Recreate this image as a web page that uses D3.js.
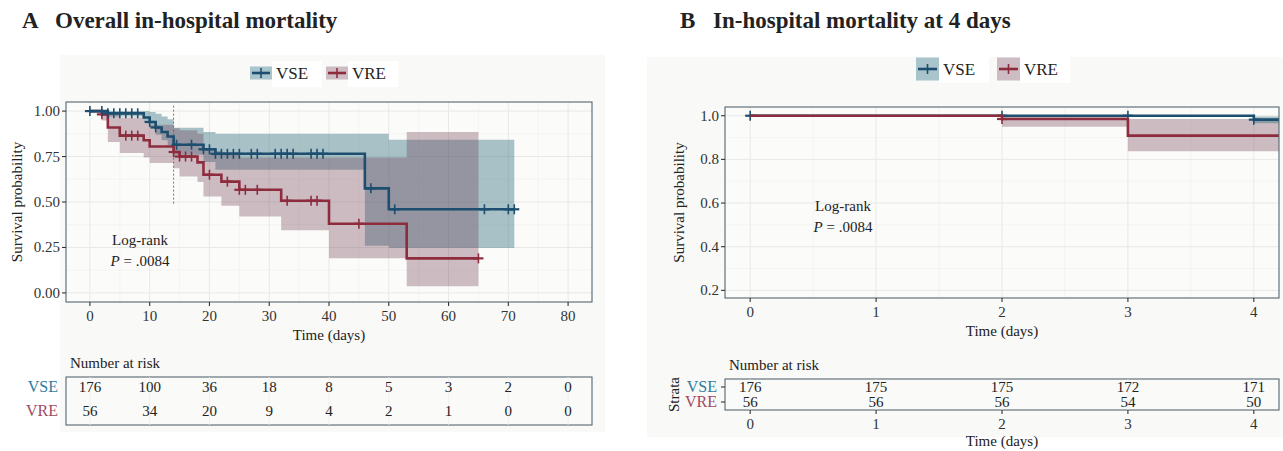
<!DOCTYPE html>
<html>
<head>
<meta charset="utf-8">
<script src="https://cdn.jsdelivr.net/npm/d3@7"></script>
<style>
body { margin: 0; background: #fff; }
text { font-family: "Liberation Serif", "DejaVu Serif", serif; }
</style>
</head>
<body>
<div id="chart"></div>
<script>
// ---- data ----
var groups = ["VSE", "VRE"];

// panel A: overall, step times / survival / CI
var vseA_time  = [0, 3, 9, 10, 11, 12, 13, 14, 19, 21, 46, 50];
var vseA_surv  = [1, 0.988, 0.965, 0.94, 0.91, 0.885, 0.86, 0.815, 0.79, 0.765, 0.575, 0.46];
var vseA_lower = [1, 0.97, 0.94, 0.905, 0.87, 0.84, 0.81, 0.76, 0.72, 0.677, 0.26, 0.247];
var vseA_upper = [1, 1, 1, 0.995, 0.985, 0.97, 0.955, 0.908, 0.885, 0.876, 0.876, 0.843];
var vseA_end = 71;
var vseA_censor = [0, 2, 3, 4, 5, 6, 7, 8, 10, 11, 14.5, 17, 19, 20, 21, 22, 23, 24, 25, 27, 28,
                   31, 32, 33, 34, 37, 38, 39, 47, 51, 66, 70, 71];

var vreA_time  = [0, 2, 3, 5, 9, 10, 14, 15, 18, 19, 22, 25, 32, 40, 53];
var vreA_surv  = [1, 0.982, 0.91, 0.865, 0.84, 0.805, 0.775, 0.75, 0.718, 0.65, 0.612, 0.567, 0.507, 0.38, 0.19];
var vreA_lower = [1, 0.948, 0.83, 0.77, 0.745, 0.715, 0.685, 0.64, 0.61, 0.53, 0.48, 0.42, 0.345, 0.19, 0.037];
var vreA_upper = [1, 1, 0.99, 0.965, 0.945, 0.925, 0.905, 0.895, 0.875, 0.78, 0.76, 0.745, 0.745, 0.745, 0.885];
var vreA_end = 65;
var vreA_censor = [2, 6, 7, 8, 14, 15, 16, 17, 20, 23, 25, 26, 28, 33, 37, 38, 45, 65];

// panel B: first 4 days
var vseB_time  = [0, 4];
var vseB_surv  = [1, 0.982];
var vseB_lower = [1, 0.965];
var vseB_upper = [1, 0.997];
var vseB_censor = [0, 2, 3, 4];
var vreB_time  = [0, 2, 3];
var vreB_surv  = [1, 0.985, 0.909];
var vreB_lower = [1, 0.95, 0.837];
var vreB_upper = [1, 1, 0.985];
var vreB_censor = [2];
var endB = 4.2;

// number at risk tables
var riskTimesA = [0, 10, 20, 30, 40, 50, 60, 70, 80];
var riskVSE_A = [176, 100, 36, 18, 8, 5, 3, 2, 0];
var riskVRE_A = [56, 34, 20, 9, 4, 2, 1, 0, 0];
var riskTimesB = [0, 1, 2, 3, 4];
var riskVSE_B = [176, 175, 175, 172, 171];
var riskVRE_B = [56, 56, 56, 54, 50];

var ticksXA = [0, 10, 20, 30, 40, 50, 60, 70, 80];
var ticksYA = [0, 0.25, 0.5, 0.75, 1];
var ticksXB = [0, 1, 2, 3, 4];
var ticksYB = [0.2, 0.4, 0.6, 0.8, 1.0];

// ---- style ----
var lineCol = {VSE: "#1d4e6f", VRE: "#8e2c3e"};
var fillCol = {VSE: "#2d6b7b", VRE: "#6e3d52"};
var fillOp = {VSE: 0.4, VRE: 0.33};
var labCol = {VSE: "#2f7ca0", VRE: "#a04a62"};
var keyCol = {VSE: "#a9c4cb", VRE: "#cdbcc3"};
var borderCol = "#56666f";

var svg = d3.select("#chart").append("svg")
  .attr("width", 1283)
  .attr("height", 451);

// light figure backgrounds
svg.append("rect").attr("x", 60).attr("y", 55).attr("width", 545).attr("height", 377).attr("fill", "#f9f9f7");
svg.append("rect").attr("x", 647).attr("y", 57).attr("width", 636).attr("height", 380).attr("fill", "#f9f9f7");

function stepAt(times, vals, t) {
  var v = vals[0];
  times.forEach(function(tt, i) { if (tt <= t) v = vals[i]; });
  return v;
}

function drawPanel(p) {
  var g = svg.append("g");
  var x = p.x, y = p.y;
  var x0 = x.range()[0], x1 = x.range()[1], y0 = y.range()[0], y1 = y.range()[1];

  g.append("rect").attr("x", x0).attr("y", y1).attr("width", x1 - x0).attr("height", y0 - y1)
    .attr("fill", "#fbfbfa");

  // grid
  p.minorX.forEach(function(v) {
    g.append("line").attr("x1", x(v)).attr("x2", x(v)).attr("y1", y1).attr("y2", y0)
      .attr("stroke", "#f0f0ee").attr("stroke-width", 0.7);
  });
  p.minorY.forEach(function(v) {
    g.append("line").attr("y1", y(v)).attr("y2", y(v)).attr("x1", x0).attr("x2", x1)
      .attr("stroke", "#f0f0ee").attr("stroke-width", 0.7);
  });
  p.ticksX.forEach(function(v) {
    g.append("line").attr("x1", x(v)).attr("x2", x(v)).attr("y1", y1).attr("y2", y0)
      .attr("stroke", "#e8e8e6").attr("stroke-width", 1);
  });
  p.ticksY.forEach(function(v) {
    g.append("line").attr("y1", y(v)).attr("y2", y(v)).attr("x1", x0).attr("x2", x1)
      .attr("stroke", "#e8e8e6").attr("stroke-width", 1);
  });

  var clipId = "clip" + p.id;
  svg.append("clipPath").attr("id", clipId).append("rect")
    .attr("x", x0).attr("y", y1).attr("width", x1 - x0).attr("height", y0 - y1);
  var inner = g.append("g").attr("clip-path", "url(#" + clipId + ")");

  // CI bands
  var area = d3.area().curve(d3.curveStepAfter)
    .x(function(d) { return x(d.t); })
    .y0(function(d) { return y(d.lo); })
    .y1(function(d) { return y(d.hi); });
  p.series.forEach(function(s) {
    var pts = s.time.map(function(t, i) { return {t: t, lo: s.lower[i], hi: s.upper[i]}; });
    var last = pts[pts.length - 1];
    pts.push({t: s.end, lo: last.lo, hi: last.hi});
    inner.append("path").attr("d", area(pts))
      .attr("fill", fillCol[s.name]).attr("fill-opacity", fillOp[s.name]);
  });

  if (p.dashX != null) {
    inner.append("line").attr("x1", x(p.dashX)).attr("x2", x(p.dashX))
      .attr("y1", y(p.dashY[0])).attr("y2", y(p.dashY[1]))
      .attr("stroke", "#555").attr("stroke-width", 0.8).attr("stroke-dasharray", "2,2");
  }

  // curves + censor marks
  var line = d3.line().curve(d3.curveStepAfter)
    .x(function(d) { return x(d.t); })
    .y(function(d) { return y(d.v); });
  p.lineOrder.forEach(function(s) {
    var pts = s.time.map(function(t, i) { return {t: t, v: s.surv[i]}; });
    pts.push({t: s.end, v: s.surv[s.surv.length - 1]});
    inner.append("path").attr("d", line(pts)).attr("fill", "none")
      .attr("stroke", lineCol[s.name]).attr("stroke-width", 2.6);
    s.censor.forEach(function(c) {
      var cx = x(c), cy = y(stepAt(s.time, s.surv, c));
      inner.append("line").attr("x1", cx).attr("x2", cx).attr("y1", cy - 5).attr("y2", cy + 5)
        .attr("stroke", lineCol[s.name]).attr("stroke-width", 1.6);
      inner.append("line").attr("x1", cx - 5).attr("x2", cx + 5).attr("y1", cy).attr("y2", cy)
        .attr("stroke", lineCol[s.name]).attr("stroke-width", 2.2);
    });
  });

  g.append("rect").attr("x", x0).attr("y", y1).attr("width", x1 - x0).attr("height", y0 - y1)
    .attr("fill", "none").attr("stroke", borderCol).attr("stroke-width", 1.1);

  // axes
  p.ticksX.forEach(function(v) {
    g.append("line").attr("x1", x(v)).attr("x2", x(v)).attr("y1", y0).attr("y2", y0 + 4)
      .attr("stroke", "#333").attr("stroke-width", 1.1);
    g.append("text").attr("x", x(v)).attr("y", y0 + 19).attr("text-anchor", "middle")
      .attr("font-size", 15).attr("fill", "#333").text(p.fmtX(v));
  });
  p.ticksY.forEach(function(v) {
    g.append("line").attr("x1", x0 - 4).attr("x2", x0).attr("y1", y(v)).attr("y2", y(v))
      .attr("stroke", "#333").attr("stroke-width", 1.1);
    g.append("text").attr("x", x0 - 6).attr("y", y(v) + 5).attr("text-anchor", "end")
      .attr("font-size", 15).attr("fill", "#333").text(p.fmtY(v));
  });
  g.append("text").attr("x", (x0 + x1) / 2).attr("y", y0 + 38).attr("text-anchor", "middle")
    .attr("font-size", 15).attr("fill", "#222").text("Time (days)");
  g.append("text").attr("transform", "translate(" + p.yTitleX + "," + ((y0 + y1) / 2) + ") rotate(-90)")
    .attr("text-anchor", "middle").attr("font-size", 15).attr("fill", "#222").text("Survival probability");

  // log-rank annotation
  var ann = g.append("text").attr("text-anchor", "middle").attr("font-size", 15).attr("fill", "#222");
  ann.append("tspan").attr("x", p.annX).attr("y", p.annY).text("Log-rank");
  var t2 = ann.append("tspan").attr("x", p.annX).attr("y", p.annY + 21);
  t2.append("tspan").attr("font-style", "italic").text("P");
  t2.append("tspan").text(" = .0084");

  // legend
  var lx = p.legendX;
  groups.forEach(function(name, i) {
    var kx = lx[i];
    g.append("rect").attr("x", kx + p.keyW).attr("y", p.legendY - 12).attr("width", 50).attr("height", 26)
      .attr("fill", "#fff");
    g.append("rect").attr("x", kx).attr("y", p.legendY - p.keyH / 2).attr("width", p.keyW).attr("height", p.keyH)
      .attr("fill", keyCol[name]);
    g.append("line").attr("x1", kx + 2).attr("x2", kx + p.keyW - 2).attr("y1", p.legendY).attr("y2", p.legendY)
      .attr("stroke", lineCol[name]).attr("stroke-width", 2.6);
    g.append("line").attr("x1", kx + p.keyW / 2).attr("x2", kx + p.keyW / 2).attr("y1", p.legendY - 5).attr("y2", p.legendY + 5)
      .attr("stroke", lineCol[name]).attr("stroke-width", 1.6);
    g.append("text").attr("x", kx + p.keyW + 4).attr("y", p.legendY + 6)
      .attr("font-size", 17).attr("fill", "#222").text(name);
  });

  // title
  g.append("text").attr("x", p.titleX).attr("y", 28).attr("font-size", 23).attr("font-weight", "bold")
    .attr("fill", "#222").text(p.letter);
  g.append("text").attr("x", p.titleX + 33).attr("y", 28).attr("font-size", 23).attr("font-weight", "bold")
    .attr("fill", "#222").text(p.title);
}

var xA = d3.scaleLinear().domain([-4, 84]).range([66, 592]);
var yA = d3.scaleLinear().domain([-0.05, 1.05]).range([302, 102]);
var xB = d3.scaleLinear().domain([-0.2, 4.2]).range([725, 1279]);
var yB = d3.scaleLinear().domain([0.165, 1.04]).range([298, 107]);

var sVSE_A = {name: "VSE", time: vseA_time, surv: vseA_surv, lower: vseA_lower, upper: vseA_upper, end: vseA_end, censor: vseA_censor};
var sVRE_A = {name: "VRE", time: vreA_time, surv: vreA_surv, lower: vreA_lower, upper: vreA_upper, end: vreA_end, censor: vreA_censor};
var sVSE_B = {name: "VSE", time: vseB_time, surv: vseB_surv, lower: vseB_lower, upper: vseB_upper, end: endB, censor: vseB_censor};
var sVRE_B = {name: "VRE", time: vreB_time, surv: vreB_surv, lower: vreB_lower, upper: vreB_upper, end: endB, censor: vreB_censor};

drawPanel({
  id: "A", x: xA, y: yA, series: [sVSE_A, sVRE_A], lineOrder: [sVRE_A, sVSE_A],
  ticksX: ticksXA, ticksY: ticksYA,
  minorX: d3.range(5, 80, 10), minorY: d3.range(0.125, 1, 0.25),
  fmtX: d3.format("d"), fmtY: d3.format(".2f"),
  dashX: 14, dashY: [1.03, 0.487],
  yTitleX: 22, annX: 140, annY: 245,
  legendX: [250, 326], legendY: 73, keyW: 22, keyH: 13,
  titleX: 22, letter: "A", title: "Overall in-hospital mortality"
});
drawPanel({
  id: "B", x: xB, y: yB, series: [sVRE_B, sVSE_B], lineOrder: [sVSE_B, sVRE_B],
  ticksX: ticksXB, ticksY: ticksYB,
  minorX: d3.range(0.5, 4, 1), minorY: d3.range(0.3, 1.0, 0.2),
  fmtX: d3.format("d"), fmtY: d3.format(".1f"),
  dashX: null,
  yTitleX: 684, annX: 843, annY: 211,
  legendX: [916, 997], legendY: 69, keyW: 23, keyH: 23,
  titleX: 680, letter: "B", title: "In-hospital mortality at 4 days"
});

// ---- number at risk tables ----
function drawRisk(r) {
  var g = svg.append("g");
  var x = r.x, x0 = x.range()[0], x1 = x.range()[1];
  g.append("text").attr("x", x0 + 4).attr("y", r.top - 9).attr("font-size", 15).attr("fill", "#222")
    .text("Number at risk");
  g.append("rect").attr("x", x0).attr("y", r.top).attr("width", x1 - x0).attr("height", r.bottom - r.top)
    .attr("fill", "#fafaf8").attr("stroke", borderCol).attr("stroke-width", 1.1);
  r.times.forEach(function(t) {
    g.append("line").attr("x1", x(t)).attr("x2", x(t)).attr("y1", r.top).attr("y2", r.bottom)
      .attr("stroke", "#eeeeec").attr("stroke-width", 0.8);
  });
  [r.vse, r.vre].forEach(function(vals, k) {
    var name = groups[k], yy = r.rows[k];
    vals.forEach(function(v, i) {
      g.append("text").attr("x", x(r.times[i])).attr("y", yy + 5).attr("text-anchor", "middle")
        .attr("font-size", 15).attr("fill", "#222").text(v);
    });
    g.append("text").attr("x", r.labelX).attr("y", yy + 5).attr("text-anchor", "end")
      .attr("font-size", 16).attr("fill", labCol[name]).text(name);
    if (r.axis) {
      g.append("line").attr("x1", x0 - 4).attr("x2", x0).attr("y1", yy).attr("y2", yy)
        .attr("stroke", "#333").attr("stroke-width", 1.1);
    }
  });
  if (r.axis) {
    r.times.forEach(function(t) {
      g.append("line").attr("x1", x(t)).attr("x2", x(t)).attr("y1", r.bottom).attr("y2", r.bottom + 4)
        .attr("stroke", "#333").attr("stroke-width", 1.1);
      g.append("text").attr("x", x(t)).attr("y", r.bottom + 19).attr("text-anchor", "middle")
        .attr("font-size", 15).attr("fill", "#333").text(t);
    });
    g.append("text").attr("x", (x0 + x1) / 2).attr("y", r.bottom + 36).attr("text-anchor", "middle")
      .attr("font-size", 15).attr("fill", "#222").text("Time (days)");
    g.append("text").attr("transform", "translate(" + (r.labelX - 38) + "," + ((r.top + r.bottom) / 2) + ") rotate(-90)")
      .attr("text-anchor", "middle").attr("font-size", 15).attr("fill", "#222").text("Strata");
  }
}

drawRisk({x: xA, times: riskTimesA, vse: riskVSE_A, vre: riskVRE_A,
  top: 377, bottom: 425, rows: [387, 411], labelX: 58, axis: false});
drawRisk({x: xB, times: riskTimesB, vse: riskVSE_B, vre: riskVRE_B,
  top: 379, bottom: 410, rows: [387, 402], labelX: 717, axis: true});
</script>
</body>
</html>
